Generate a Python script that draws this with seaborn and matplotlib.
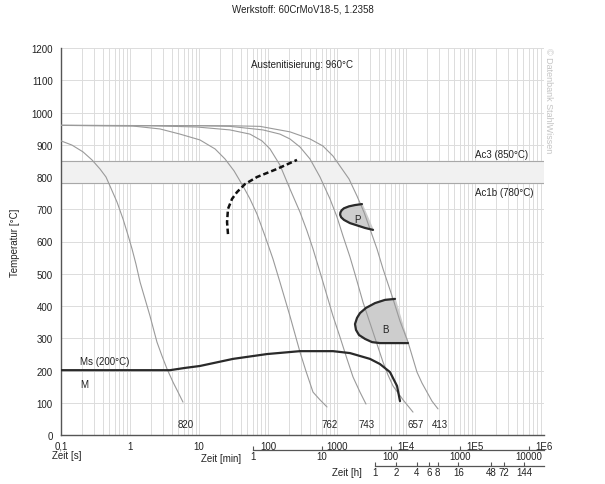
"""CCT diagram for 60CrMoV18-5 (1.2358)."""

import matplotlib

matplotlib.use("Agg")

import numpy as np
import seaborn as sns
from matplotlib import pyplot as plt
from matplotlib.ticker import FixedLocator, NullLocator, LogLocator, NullFormatter

# --- data ------------------------------------------------------------------
curve_820_t = [0.1, 0.144, 0.208, 0.281, 0.367, 0.449, 0.513, 0.649, 0.792, 0.935, 1.07,
               1.22, 1.40, 1.65, 1.95, 2.23, 2.46, 2.91, 3.44, 4.2, 4.97, 5.86]
curve_820_T = [912, 899, 878, 853, 825, 800, 772, 722, 670, 620, 577,
               530, 474, 422, 369, 322, 288, 245, 205, 164, 133, 102]

curve_762_t = [0.1, 0.367, 1.105, 2.72, 5.30, 10.3, 17.1, 23.8, 32.2, 43.4, 54.8, 69.3,
               90.5, 118, 149, 208, 291, 355, 449, 567, 716]
curve_762_T = [960, 959, 958, 949, 933, 915, 887, 856, 819, 772, 732, 685,
               617, 546, 474, 369, 257, 198, 133, 109, 87]

curve_743_t = [0.1, 1.95, 9.35, 28.1, 54.8, 81.8, 107, 149, 208, 291, 367, 449, 607,
               875, 1104, 1396, 1706, 2153, 2630]
curve_743_T = [960, 959, 955, 946, 933, 912, 887, 837, 763, 691, 633, 577, 484,
               369, 304, 236, 180, 133, 96]

curve_657_t = [0.1, 10.3, 28.1, 84.6, 149, 208, 291, 406, 567, 792, 1000, 1222, 1542,
               1823, 2380, 3328, 4645, 5486, 6486, 9061, 12630]
curve_657_T = [960, 959, 957, 946, 933, 918, 893, 856, 800, 732, 676, 617, 552,
               499, 412, 319, 226, 186, 152, 109, 71]

curve_413_t = [0.1, 28.1, 76.6, 208, 406, 626, 875, 1104, 1492, 1950, 2461, 3004, 3799,
               4645, 6486, 8186, 10700, 14430, 17060, 20150, 23810, 29090]
curve_413_T = [960, 959, 957, 940, 918, 896, 865, 834, 794, 741, 691, 639, 577,
               515, 422, 353, 288, 195, 161, 133, 105, 81]

hardness = ["820", "762", "743", "657", "413"]
hardness_t = [6.5, 790, 2720, 13960, 31100]
hardness_T = [34, 34, 34, 34, 34]

carbide_t = [26.3, 25.5, 26.3, 30.1, 35.5, 46.4, 69.3, 135, 263]
carbide_T = [623, 660, 701, 732, 753, 778, 800, 825, 853]

ms_t = [0.1, 3.8, 6.27, 10.3, 31.1, 96.8, 291, 875, 1542, 2153, 3004, 4196, 5861, 7413, 8186]
ms_T = [201, 201, 208, 214, 236, 251, 260, 260, 254, 245, 236, 220, 195, 152, 105]

pearlite_t = [2301, 1823, 1492, 1262, 1170, 1120, 1110, 1150, 1262, 1542, 1950, 2547, 3328]
pearlite_T = [716, 713, 709, 703, 697, 690, 683, 675, 667, 657, 650, 642, 636]

bainite_t = [6934, 4966, 3556, 2630, 2153, 1950, 1823, 1884, 2085, 2547, 3215, 4196, 10700]
bainite_T = [422, 419, 409, 394, 378, 363, 344, 326, 310, 298, 288, 285, 285]

ac3 = 850
ac1b = 780
x_ticks = [0.1, 1, 10, 100, 1000, 1e4, 1e5, 1e6]
x_labels = ["0,1", "1", "10", "100", "1000", "1E4", "1E5", "1E6"]
min_ticks = [1, 10, 100, 1000, 10000]
h_ticks = [1, 2, 4, 6, 8, 16, 48, 72, 144]

# --- styling ----------------------------------------------------------------
sns.set_theme(style="white")
plt.rcParams["font.family"] = ["Liberation Sans", "DejaVu Sans"]
plt.rcParams["font.size"] = 7
TXT = "#222222"
GRID = "#dcdcdc"
CURVE = "#9a9a9a"
THICK = "#2a2a2a"
FILL = "#cdcdcd"

fig = plt.figure(figsize=(6.05, 4.85), dpi=100)
ax = fig.add_axes([61 / 605, 1 - 436 / 485, 483 / 605, 387 / 485])
ax.set_xscale("log")
ax.set_xlim(0.1, 1e6)
ax.set_ylim(0, 1200)

# grid
ax.xaxis.set_major_locator(FixedLocator(x_ticks))
ax.xaxis.set_minor_locator(LogLocator(base=10, subs=np.arange(2, 10)))
ax.xaxis.set_minor_formatter(NullFormatter())
ax.set_xticklabels(x_labels)
ax.set_yticks(np.arange(0, 1201, 100))
ax.grid(which="both", axis="x", color=GRID, lw=0.7)
ax.grid(which="major", axis="y", color=GRID, lw=0.7)
ax.set_axisbelow(True)

# Ac band
ax.axhspan(ac1b, ac3, color="#f1f1f1", zorder=1)
ax.axhline(ac3, color="#a8a8a8", lw=0.8, zorder=1.5)
ax.axhline(ac1b, color="#a8a8a8", lw=0.8, zorder=1.5)


def path(t, T, **kw):
    # estimator=None keeps repeated x values (closed shapes) as they are
    sns.lineplot(x=t, y=T, ax=ax, sort=False, estimator=None, **kw)


# cooling curves
curves = [
    (curve_820_t, curve_820_T),
    (curve_762_t, curve_762_T),
    (curve_743_t, curve_743_T),
    (curve_657_t, curve_657_T),
    (curve_413_t, curve_413_T),
]
for t, T in curves:
    path(t, T, color=CURVE, lw=0.8, zorder=3)

for label, t, T in zip(hardness, hardness_t, hardness_T):
    ax.text(t, T, label, ha="center", va="center", color=TXT, fontsize=7)

# transformation regions
ax.fill(pearlite_t, pearlite_T, color=FILL, zorder=2)
path(pearlite_t, pearlite_T, color=THICK, lw=1.6, zorder=4)
ax.fill(bainite_t, bainite_T, color=FILL, zorder=2)
path(bainite_t, bainite_T, color=THICK, lw=1.6, zorder=4)
ax.text(1950, 670, "P", ha="center", va="center", color=TXT, fontsize=7)
ax.text(4966, 329, "B", ha="center", va="center", color=TXT, fontsize=7)

# carbide line and Ms
path(carbide_t, carbide_T, color="#111111", lw=1.8, linestyle=(0, (2.2, 1.2)), zorder=4)
path(ms_t, ms_T, color=THICK, lw=1.6, zorder=4)
ax.text(0.19, 229, "Ms (200°C)", color=TXT, fontsize=7, va="center")
ax.text(0.19, 158, "M", color=TXT, fontsize=7, va="center")

ax.text(310, 1150, "Austenitisierung: 960°C", ha="center", va="center", color=TXT, fontsize=7)
ax.text(1e5, 871, "Ac3 (850°C)", ha="left", va="center", color=TXT, fontsize=7)
ax.text(1e5, 753, "Ac1b (780°C)", ha="left", va="center", color=TXT, fontsize=7)

# spines & ticks
sns.despine(ax=ax)
for side in ["left", "bottom"]:
    ax.spines[side].set_color("#555555")
    ax.spines[side].set_linewidth(1.0)
ax.tick_params(axis="y", which="major", direction="out", length=4, width=0.8,
               color="#555555", labelsize=7, labelcolor=TXT, pad=2)
ax.tick_params(axis="x", which="major", direction="out", length=3, width=0.8,
               color="#555555", labelsize=7, labelcolor=TXT, pad=1)
ax.tick_params(axis="x", which="minor", length=0)
ax.set_ylabel("Temperatur [°C]", fontsize=7, color=TXT)
ax.yaxis.set_label_coords(-0.085, 0.5)

# minutes axis
sec_min = ax.secondary_xaxis(-15 / 387, functions=(lambda s: s / 60.0, lambda m: m * 60.0))
sec_min.set_xticks(min_ticks)
sec_min.set_xticklabels([str(v) for v in min_ticks])
sec_min.xaxis.set_minor_locator(NullLocator())
sec_min.spines["bottom"].set_bounds(1, 1e6 / 60)
sec_min.spines["bottom"].set_color("#555555")
sec_min.spines["bottom"].set_linewidth(0.9)
sec_min.tick_params(axis="x", direction="in", length=3, width=0.8, color="#555555",
                    labelsize=7, labelcolor=TXT, pad=1)

# hours axis
sec_h = ax.secondary_xaxis(-31 / 387, functions=(lambda s: s / 3600.0, lambda h: h * 3600.0))
sec_h.set_xticks(h_ticks)
sec_h.set_xticklabels([str(v) for v in h_ticks])
sec_h.xaxis.set_minor_locator(NullLocator())
sec_h.spines["bottom"].set_bounds(1, 1e6 / 3600)
sec_h.spines["bottom"].set_color("#555555")
sec_h.spines["bottom"].set_linewidth(0.9)
sec_h.tick_params(axis="x", direction="in", length=3, width=0.8, color="#555555",
                  labelsize=7, labelcolor=TXT, pad=1)

fig.text(52 / 605, 1 - 456 / 485, "Zeit [s]", fontsize=7, color=TXT, va="center")
fig.text(201 / 605, 1 - 459 / 485, "Zeit [min]", fontsize=7, color=TXT, va="center")
fig.text(332 / 605, 1 - 473 / 485, "Zeit [h]", fontsize=7, color=TXT, va="center")

fig.text(0.5, 1 - 9 / 485, "Werkstoff: 60CrMoV18-5, 1.2358", ha="center", va="center",
         fontsize=7, color=TXT)
fig.text(549 / 605, 1 - 48 / 485, "© Datenbank StahlWissen", rotation=-90, ha="center",
         va="top", fontsize=6.5, color="#c4c4c4")

fig.savefig("out.png", dpi=100)
